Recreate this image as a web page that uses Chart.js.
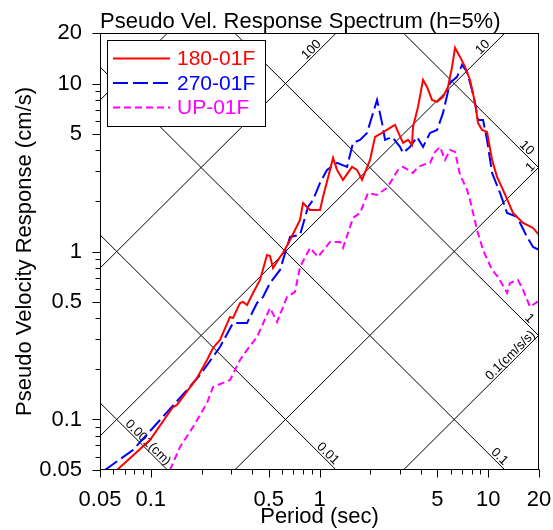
<!DOCTYPE html>
<html>
<head>
<meta charset="utf-8">
<script src="https://cdn.jsdelivr.net/npm/chart.js@4.4.1/dist/chart.umd.min.js"></script>
<style>
  body { margin: 0; background: #fff; }
</style>
</head>
<body>
<canvas id="psv" width="553" height="530"></canvas>
<script>
const FONT = "'Liberation Sans', Arial, sans-serif";

// axis ticks, only the listed ones get a label
const tickValues = [0.05, 0.06, 0.07, 0.08, 0.09, 0.1, 0.2, 0.3, 0.4, 0.5, 0.6, 0.7, 0.8, 0.9,
  1, 2, 3, 4, 5, 6, 7, 8, 9, 10, 20];
const tickLabels = [0.05, 0.1, 0.5, 1, 5, 10, 20];

// tripartite guide lines: displacement (cm) and acceleration (cm/s/s)
const dispLines = [0.001, 0.01, 0.1, 1, 10];
const dispText = ['0.001(cm)', '0.01', '0.1', '1', '10'];
const dispTextAt = [0.121, 1.2, 12.05, 17.2, 17.2];   // period where the label ends
const accLines = [0.1, 1, 10, 100, 1000];
const accText = ['0.1(cm/s/s)', '1', '10', '100', ''];
const accTextAt = [19.5, 19.5, 10.5, 1.05, null];

// 180-01F
const period180 = [0.0631, 0.0989, 0.1354, 0.143, 0.188, 0.2155, 0.2338, 0.2572, 0.2948, 0.3072,
  0.338, 0.352, 0.372, 0.4036, 0.444, 0.4886, 0.509, 0.5304, 0.5834, 0.6078,
  0.6689, 0.7665, 0.7986, 0.8786, 1.007, 1.049, 1.154, 1.203, 1.27, 1.378,
  1.559, 1.669, 1.787, 1.993, 2.134, 2.348, 2.618, 2.804, 2.92, 3.127,
  3.348, 3.534, 3.583, 3.837, 4.108, 4.339, 4.645, 4.974, 5.397, 5.777,
  6.104, 6.358, 6.808, 7.288, 7.803, 8.353, 8.703, 9.193, 9.84, 10.54,
  11.28, 12.24, 14.03, 16.09, 18.44, 20];
const vel180 = [0.05, 0.0754, 0.1186, 0.122, 0.1766, 0.226, 0.2665, 0.2974, 0.4076, 0.402,
  0.4939, 0.5008, 0.4806, 0.5666, 0.6772, 0.954, 0.941, 0.7982, 0.928, 0.98,
  1.172, 1.542, 1.946, 1.768, 1.768, 2.113, 3.061, 3.608, 3.061, 2.668,
  3.189, 3.061, 2.668, 3.511, 4.812, 5.083, 5.445, 5.674, 5.154, 4.433,
  4.619, 4.312, 5.521, 7.26, 10.51, 9.55, 7.99, 7.78, 8.33, 9.55,
  12.57, 16.31, 14.41, 12.57, 10.51, 7.67, 5.832, 5.297, 5.154, 3.511,
  2.781, 2.327, 1.697, 1.48, 1.381, 1.255];

// 270-01F
const period270 = [0.0535, 0.0784, 0.1134, 0.164, 0.1957, 0.2572, 0.3072, 0.372, 0.4263, 0.4626,
  0.509, 0.5834, 0.6689, 0.7665, 0.855, 0.9154, 1.007, 1.108, 1.27, 1.456,
  1.58, 1.739, 1.912, 2.193, 2.348, 2.446, 2.691, 3.001, 3.127, 3.441,
  3.784, 4.108, 4.52, 4.974, 5.397, 5.938, 6.535, 6.996, 7.49, 8.018,
  8.353, 8.703, 9.318, 9.84, 10.54, 11.75, 12.93, 14.82, 16.99, 18.44, 20];
const vel270 = [0.05, 0.0658, 0.0993, 0.1498, 0.184, 0.2701, 0.3754, 0.3754, 0.4939, 0.5364,
  0.65, 0.7767, 1.221, 1.255, 1.843, 2.028, 2.561, 3.061, 3.37, 3.189,
  4.433, 4.619, 5.083, 7.99, 5.832, 4.619, 4.812, 4.195, 3.864, 4.195,
  4.812, 4.195, 5.083, 5.297, 6.688, 10.09, 10.96, 12.92, 11.74, 9.17,
  7.67, 6.077, 6.077, 4.619, 2.937, 2.233, 1.697, 1.607, 1.221, 1.065, 1.022];

// UP-01F
const periodUP = [0.13, 0.149, 0.178, 0.2155, 0.2338, 0.268, 0.2948, 0.338, 0.372, 0.4263,
  0.509, 0.5602, 0.6421, 0.7159, 0.7665, 0.8786, 0.98, 1.154, 1.323, 1.378,
  1.58, 1.739, 1.939, 2.193, 2.513, 2.92, 3.127, 3.583, 3.837, 4.108,
  4.52, 4.84, 5.18, 5.547, 5.938, 6.358, 6.808, 7.49, 7.803, 8.585,
  9.318, 10.54, 11.43, 12.93, 13.47, 15.02, 16.09, 17.7, 19.47, 20];
const velUP = [0.05, 0.0686, 0.0902, 0.1253, 0.156, 0.165, 0.1718, 0.226, 0.2593, 0.3098,
  0.4612, 0.3806, 0.5364, 0.5745, 0.809, 1.05, 0.928, 1.14, 1.14, 1.05,
  1.585, 1.697, 2.233, 2.173, 2.391, 3.061, 3.189, 2.937, 3.189, 3.278,
  3.37, 3.917, 4.195, 3.511, 4.026, 3.917, 2.858, 2.327, 2.028, 1.344,
  1.022, 0.7767, 0.7057, 0.5666, 0.65, 0.6772, 0.5904, 0.4676, 0.5008, 0.5008];

const toPoints = (ts, vs) => ts.map((t, i) => ({ x: t, y: vs[i] }));

// diagonal D / A lines with their labels, under the curves
const tripartite = {
  id: 'tripartite',
  beforeDatasetsDraw(chart) {
    const { ctx, chartArea: a, scales: { x, y } } = chart;
    ctx.save();
    ctx.beginPath();
    ctx.rect(a.left, a.top, a.right - a.left, a.bottom - a.top);
    ctx.clip();
    ctx.strokeStyle = '#000';
    ctx.lineWidth = 1;
    const draw = (fn, label, at) => {
      const x1 = x.getPixelForValue(0.05), y1 = y.getPixelForValue(fn(0.05));
      const x2 = x.getPixelForValue(20), y2 = y.getPixelForValue(fn(20));
      ctx.beginPath();
      ctx.moveTo(x1, y1);
      ctx.lineTo(x2, y2);
      ctx.stroke();
      if (!label || !at) return;
      ctx.save();
      ctx.translate(x.getPixelForValue(at), y.getPixelForValue(fn(at)));
      ctx.rotate(Math.atan2(y2 - y1, x2 - x1));
      ctx.fillStyle = '#000';
      ctx.font = '13px ' + FONT;
      ctx.textAlign = 'right';
      ctx.textBaseline = 'alphabetic';
      ctx.fillText(label, 0, -2);
      ctx.restore();
    };
    dispLines.forEach((d, i) => draw(T => 2 * Math.PI * d / T, dispText[i], dispTextAt[i]));
    accLines.forEach((acc, i) => draw(T => acc * T / (2 * Math.PI), accText[i], accTextAt[i]));
    ctx.restore();
  },
  afterDatasetsDraw(chart) {
    const { ctx, chartArea: a, scales: { x, y } } = chart;
    ctx.save();
    ctx.strokeStyle = '#000';
    ctx.lineWidth = 1;
    const L = Math.round(a.left) + 0.5, R = Math.round(a.right) - 0.5;
    const T = Math.round(a.top) + 0.5, B = Math.round(a.bottom) - 0.5;
    ctx.strokeRect(L, T, R - L, B - T);
    ctx.beginPath();
    tickValues.forEach(v => {
      const len = tickLabels.includes(v) ? 8 : 5;
      const px = Math.round(x.getPixelForValue(v)) + 0.5;
      ctx.moveTo(px, B); ctx.lineTo(px, B + len);
      const py = Math.round(y.getPixelForValue(v)) + 0.5;
      ctx.moveTo(L, py); ctx.lineTo(L - len, py);
    });
    ctx.stroke();
    ctx.restore();
  },
  afterDraw(chart) {
    const { ctx } = chart;
    ctx.save();
    // title
    ctx.fillStyle = '#000';
    ctx.font = '22px ' + FONT;
    ctx.textAlign = 'left';
    ctx.textBaseline = 'alphabetic';
    ctx.fillText('Pseudo Vel. Response Spectrum (h=5%)', 100, 28);
    // legend box
    ctx.fillStyle = '#fff';
    ctx.fillRect(107, 40, 158, 86);
    ctx.strokeStyle = '#000';
    ctx.lineWidth = 1;
    ctx.strokeRect(107.5, 40.5, 158, 86);
    ctx.font = '21px ' + FONT;
    ctx.textBaseline = 'middle';
    chart.data.datasets.forEach((ds, i) => {
      const ly = 58.5 + i * 24.5;
      ctx.strokeStyle = ds.borderColor;
      ctx.lineWidth = 2;
      ctx.setLineDash(ds.borderDash || []);
      ctx.beginPath();
      ctx.moveTo(113, ly);
      ctx.lineTo(170, ly);
      ctx.stroke();
      ctx.setLineDash([]);
      ctx.fillStyle = ds.borderColor;
      ctx.fillText(ds.label, 177, ly + 1);
    });
    ctx.restore();
  }
};

new Chart(document.getElementById('psv'), {
  type: 'line',
  data: {
    datasets: [
      { label: '180-01F', data: toPoints(period180, vel180), borderColor: '#ff0000', borderWidth: 2 },
      { label: '270-01F', data: toPoints(period270, vel270), borderColor: '#0000ff', borderWidth: 2, borderDash: [15, 5] },
      { label: 'UP-01F', data: toPoints(periodUP, velUP), borderColor: '#ff00ff', borderWidth: 2, borderDash: [7, 4] }
    ]
  },
  options: {
    responsive: false,
    animation: false,
    devicePixelRatio: 1,
    elements: { point: { radius: 0 }, line: { tension: 0, fill: false } },
    layout: { padding: { top: 33, right: 14, left: 0, bottom: 0 }, autoPadding: false },
    plugins: { legend: { display: false }, tooltip: { enabled: false }, title: { display: false } },
    scales: {
      x: {
        type: 'logarithmic',
        position: 'bottom',
        min: 0.05,
        max: 20,
        afterBuildTicks: s => { s.ticks = tickValues.map(v => ({ value: v })); },
        afterFit: s => { s.height = 60; s.paddingLeft = 0; s.paddingRight = 0; },
        grid: { display: false },
        border: { display: false },
        ticks: {
          autoSkip: false, maxRotation: 0, padding: 9, color: '#000',
          font: { family: FONT, size: 22 },
          callback: v => tickLabels.includes(v) ? String(v) : ''
        },
        title: { display: true, text: 'Period (sec)', color: '#000', font: { family: FONT, size: 22 }, padding: { top: 0, bottom: 0 } }
      },
      y: {
        type: 'logarithmic',
        position: 'left',
        min: 0.05,
        max: 20,
        afterBuildTicks: s => { s.ticks = tickValues.map(v => ({ value: v })); },
        afterFit: s => { s.width = 100; s.paddingTop = 0; s.paddingBottom = 0; },
        grid: { display: false },
        border: { display: false },
        ticks: {
          autoSkip: false, padding: 10, color: '#000',
          font: { family: FONT, size: 22 },
          callback: v => tickLabels.includes(v) ? String(v) : ''
        },
        title: { display: true, text: 'Pseudo Velocity Response (cm/s)', color: '#000', font: { family: FONT, size: 22 }, padding: { top: 12, bottom: 0 } }
      }
    }
  },
  plugins: [tripartite]
});
</script>
</body>
</html>
